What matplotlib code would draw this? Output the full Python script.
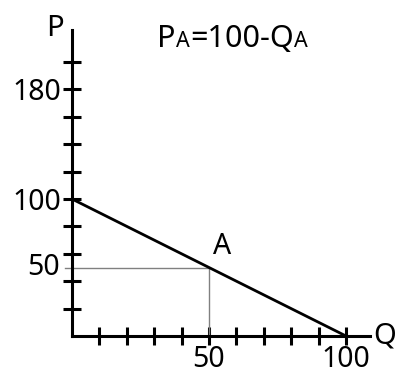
import matplotlib
matplotlib.use("Agg")
import matplotlib.pyplot as plt

plt.rcParams['font.family'] = ['Noto Sans', 'DejaVu Sans']

# demand curve P = 100 - Q
q_line = [0, 100]
p_line = [100, 0]
# point A on the curve
qa, pa = 50, 50

x_ticks = list(range(10, 101, 10))
x_labels = ['' if v not in (50, 100) else str(v) for v in x_ticks]
y_ticks = list(range(20, 201, 20))
y_labels = ['' if v not in (100, 180) else str(v) for v in y_ticks]

fig = plt.figure(figsize=(3.98, 3.76), dpi=100)
ax = fig.add_axes([72 / 398, 40 / 376, 298 / 398, 306 / 376])
ax.set_xlim(0, 298 / 2.74)
ax.set_ylim(0, 306 / 1.37)

for s in ['top', 'right']:
    ax.spines[s].set_visible(False)
for s in ['left', 'bottom']:
    ax.spines[s].set_linewidth(2.2)

ax.set_xticks(x_ticks)
ax.set_xticklabels(x_labels)
ax.set_yticks(y_ticks)
ax.set_yticklabels(y_labels)
ax.tick_params(direction='inout', length=12.5, width=2.2, labelsize=20.5, pad=1.5)
ax.tick_params(axis='x', pad=0.5)

# guide lines to A
ax.plot([-2.5, qa], [pa, pa], color='#808080', lw=1, clip_on=False)
ax.plot([qa, qa], [0, pa], color='#808080', lw=1)
ax.plot(q_line, p_line, color='black', lw=2, solid_capstyle='butt')

ax.text(-4.3, pa, '50', fontsize=20.5, ha='right', va='center', clip_on=False)
ax.text(qa + 1.5, pa + 5, 'A', fontsize=20.5, ha='left', va='bottom')
ax.text(1.01, 0, 'Q', transform=ax.transAxes, fontsize=21, ha='left', va='center')
fig.text(55 / 398, 1 - 28 / 376, 'P', fontsize=21, ha='center', va='center')

# equation with small capital subscripts, laid out piece by piece
renderer = fig.canvas.get_renderer()
pieces = [('P', 22), ('A', 15.5), ('=100-Q', 22), ('A', 15.5)]
x0, base = 157, 376 - 47
for txt, fs in pieces:
    t = fig.text(x0 / 398, base / 376, txt, fontsize=fs, ha='left', va='baseline')
    bb = t.get_window_extent(renderer)
    x0 = bb.x1 + 0.5

fig.savefig('out.png', dpi=100)
